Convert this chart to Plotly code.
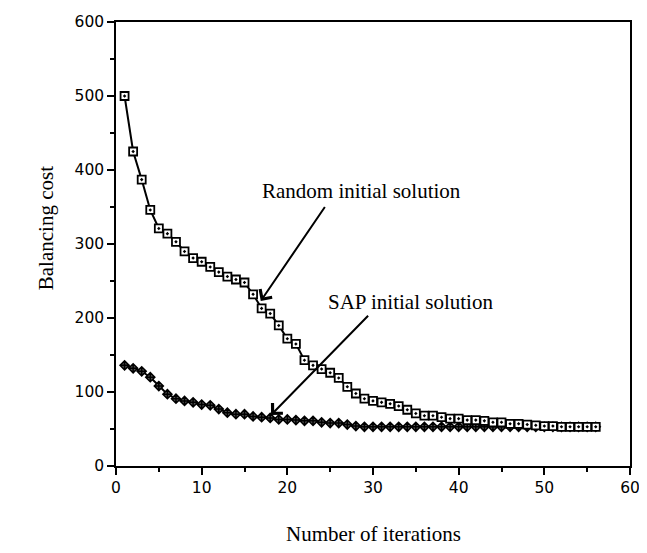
import plotly.graph_objects as go

iterations = list(range(1, 57))
random_cost = [500, 425, 387, 346, 321, 314, 303, 290, 281, 276,
               269, 262, 256, 252, 248, 232, 213, 206, 190, 172,
               165, 143, 136, 131, 126, 119, 107, 98, 91, 88,
               86, 84, 81, 76, 71, 68, 68, 66, 64, 64,
               62, 62, 61, 59, 59, 57, 57, 56, 55, 54,
               54, 53, 53, 53, 53, 53]
sap_cost = [136, 132, 128, 120, 108, 97, 91, 88, 86, 83,
            82, 77, 72, 70, 70, 67, 66, 65, 63, 63,
            62, 61, 61, 59, 58, 58, 56, 54, 53, 53,
            53, 53, 53, 53, 53, 53, 53, 53, 53, 53,
            53, 53, 53, 53, 53, 53, 53, 53, 53, 53,
            53, 53, 53, 53, 53, 53]
x_ticks = [0, 10, 20, 30, 40, 50, 60]
y_ticks = [0, 100, 200, 300, 400, 500, 600]

serif = "Liberation Serif"
sans = "DejaVu Sans"

fig = go.Figure()
fig.add_trace(go.Scatter(
    x=iterations, y=sap_cost, mode="lines+markers",
    line=dict(color="black", width=2),
    marker=dict(symbol="diamond-cross", size=7, color="#555555",
                line=dict(color="black", width=1.5)),
    name="SAP initial solution", showlegend=False))
fig.add_trace(go.Scatter(
    x=iterations, y=random_cost, mode="lines+markers",
    line=dict(color="black", width=2),
    marker=dict(symbol="square-dot", size=8, color="white",
                line=dict(color="black", width=1.8)),
    name="Random initial solution", showlegend=False))

# arrows
fig.add_annotation(x=16.9, y=223, ax=24.5, ay=352, xref="x", yref="y",
                   axref="x", ayref="y", text="", showarrow=True,
                   arrowhead=4, arrowsize=1.4, arrowwidth=2, arrowcolor="black")
fig.add_annotation(x=18.1, y=69, ax=29.6, ay=205, xref="x", yref="y",
                   axref="x", ayref="y", text="", showarrow=True,
                   arrowhead=4, arrowsize=1.4, arrowwidth=2, arrowcolor="black")
fig.add_annotation(x=28.7, y=372, text="Random initial solution", showarrow=False,
                   font=dict(family=serif, size=21, color="black"))
fig.add_annotation(x=34.4, y=221, text="SAP initial solution", showarrow=False,
                   font=dict(family=serif, size=21, color="black"))

# axis titles
fig.add_annotation(x=0.5, y=-0.185, xref="paper", yref="paper",
                   text="Number of iterations", showarrow=False,
                   font=dict(family=serif, size=21, color="black"))
fig.add_annotation(x=-0.163, y=0.536, xref="paper", yref="paper",
                   text="Balancing cost", showarrow=False, textangle=-90,
                   font=dict(family=serif, size=21, color="black"))

axis_common = dict(showline=True, linecolor="black", linewidth=1.5, mirror=True,
                   ticks="outside", ticklen=7, tickwidth=1.5, tickcolor="black",
                   showgrid=False, zeroline=False, automargin=False,
                   tickfont=dict(family=sans, size=15.5, color="black"))
fig.update_xaxes(range=[0, 60], tickvals=x_ticks,
                 minor=dict(dtick=5, tick0=0, ticks="outside", ticklen=4,
                            tickwidth=1.5, tickcolor="black", showgrid=False),
                 **axis_common)
fig.update_yaxes(range=[0, 600], tickvals=y_ticks,
                 minor=dict(dtick=50, tick0=0, ticks="outside", ticklen=4,
                            tickwidth=1.5, tickcolor="black", showgrid=False),
                 **axis_common)
fig.update_layout(width=647, height=553, plot_bgcolor="white", paper_bgcolor="white",
                  margin=dict(l=108, r=25, t=14, b=95))
fig.write_html("out.html")
